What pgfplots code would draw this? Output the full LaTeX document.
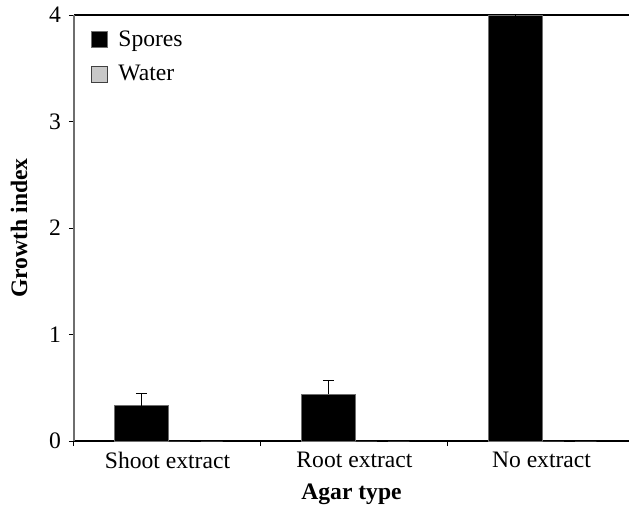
\documentclass[border=0pt]{standalone}
\usepackage{fontspec}
\setmainfont{Liberation Serif}
\usepackage{pgfplots}
\pgfplotsset{compat=1.18}
\usetikzlibrary{calc}
\definecolor{watergray}{RGB}{200,200,200}
\definecolor{edgegray}{RGB}{110,110,110}
\begin{document}
\begin{tikzpicture}[font=\fontsize{11.8}{14}\selectfont]
\begin{axis}[
  scale only axis, width=277.5pt, height=213pt,
  xmin=-0.5, xmax=2.468, ymin=0, ymax=4,
  clip=false,
  axis x line*=box, axis y line*=left,
  axis line style={-},
  x axis line style={black, line width=0.6pt},
  y axis line style={edgegray, line width=0.8pt},
  xtick pos=bottom, ytick pos=left,
  tick align=outside,
  major tick length=2.5pt,
  tick style={black, line width=0.5pt},
  xtick={-0.5,0.5,1.5}, xticklabels={,,},
  extra x ticks={0,1,2},
  extra x tick labels={Shoot extract, Root extract, No extract},
  extra x tick style={major tick length=0pt, tick label style={yshift=-2pt}},
  ytick={0,1,2,3,4},
  /pgf/number format/assume math mode=true,
  tick label style={font=\fontsize{11.8}{14}\selectfont},
  yticklabel style={xshift=-0.5pt},
  xlabel={Agar type}, ylabel={Growth index},
  label style={font=\fontsize{11.8}{14}\selectfont\bfseries},
  xlabel style={at={(axis description cs:0.5,0)}, anchor=center, yshift=-26.5pt},
  ylabel style={at={(axis description cs:0,0.5)}, anchor=center, yshift=27.5pt},
  ybar, bar width=27pt,
  legend style={draw=none, fill=none, inner sep=0pt, at={(axis description cs:0,1)}, anchor=north west, xshift=8.5pt, yshift=-5.5pt, row sep=4pt, font=\fontsize{11.8}{14}\selectfont, legend cell align=left},
  legend image code/.code={\draw[#1] (0pt,-4pt) rectangle (8pt,4pt); \path (11pt,0pt);},
]
\addplot[fill=black, draw=edgegray, line width=0.5pt, bar shift=-13pt,
  error bars/.cd, y dir=plus, y explicit,
  error bar style={black, line width=0.5pt},
  error mark options={black, rotate=90, mark size=2.75pt, line width=0.5pt}]
  coordinates {(0,0.33) +- (0,0.12) (1,0.44) +- (0,0.13) (2,4.0) +- (0,0.004)};
\addlegendentry{Spores}
\addplot[fill=watergray, draw=black!75, line width=0.5pt, bar shift=14pt,
  error bars/.cd, y dir=plus, y explicit,
  error bar style={black, line width=0.5pt},
  error mark options={black, rotate=90, mark size=2.75pt, line width=0.8pt}]
  coordinates {(0,0) +- (0,0) (1,0) +- (0,0) (2,0) +- (0,0)};
\addlegendentry{Water}
\coordinate (ll) at (rel axis cs:0,0);
\coordinate (ur) at (rel axis cs:1,1);
\end{axis}
\pgfresetboundingbox
\path[use as bounding box] ($(ll)+(-37pt,-33.5pt)$) rectangle ($(ur)+(0pt,7.5pt)$);
\end{tikzpicture}
\end{document}
